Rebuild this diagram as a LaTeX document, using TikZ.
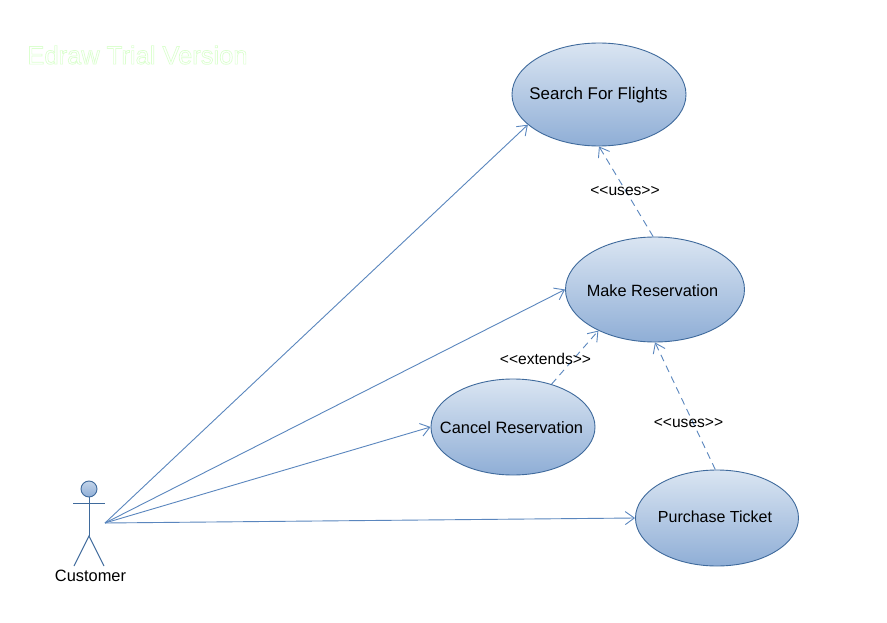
\documentclass[tikz,border=0pt]{standalone}
\usepackage{fontspec}
\setmainfont{Liberation Sans}
\usetikzlibrary{arrows.meta,shapes.geometric}
\definecolor{edgeblue}{HTML}{5A86BE}
\definecolor{rimblue}{HTML}{3F6A9C}
\definecolor{topblue}{HTML}{DAE5F2}
\definecolor{botblue}{HTML}{8FAED6}
\definecolor{wmgreen}{HTML}{DCFFD0}
\newcommand{\casetext}[4]{\makebox[0pt][c]{\kern#1pt\raisebox{#2pt}[0pt][0pt]{\fontsize{#3}{18}\selectfont #4}}}
\newcommand{\outlined}[1]{\special{pdf:code q 1 Tr 0.7 w}#1\special{pdf:code Q}}
\tikzset{
  usecase/.style={ellipse,draw=rimblue,line width=0.9pt,top color=topblue,bottom color=botblue,
    inner sep=0pt,text=black},
  assoc/.style={draw=edgeblue,line width=0.9pt,-{Straight Barb[length=9pt,width=13pt,line width=0.9pt]}},
  dep/.style={assoc,dash pattern=on 7pt off 5pt},
  stereo/.style={font=\fontsize{15.6}{17}\selectfont,text=black,inner sep=0pt},
  limb/.style={draw=rimblue,line width=1pt}
}
\begin{document}
\begin{tikzpicture}[x=1pt,y=-1pt]
\useasboundingbox[fill=white] (0,0) rectangle (887,623);
\node[font=\fontsize{25.5}{27}\selectfont,text=wmgreen,anchor=center,inner sep=0pt] (wm) at (137.5,55) {\outlined{Edraw Trial Version}};

\node[usecase,minimum width=174pt,minimum height=103pt] (search) at (599,94.5) {\casetext{-1}{-5.5}{16.9}{Search For Flights}};
\node[usecase,minimum width=179pt,minimum height=105pt] (make) at (655,289.5) {\casetext{-5}{-6.5}{16.3}{Make Reservation}};
\node[usecase,minimum width=164pt,minimum height=96pt] (cancel) at (513,427) {\casetext{-3}{-6}{16.4}{Cancel Reservation}};
\node[usecase,minimum width=163pt,minimum height=96pt] (purchase) at (717,518) {\casetext{-4}{-4}{16}{Purchase Ticket}};

\node[circle,draw=rimblue,line width=0.9pt,top color=topblue!70!botblue,bottom color=botblue,minimum size=16pt,inner sep=0pt] (head) at (89,489) {};
\coordinate (armL) at (73,503);
\coordinate (armR) at (105,503);
\coordinate (hip) at (89,536);
\coordinate (footL) at (74,566);
\coordinate (footR) at (104,566);
\coordinate (hand) at (105,523);
\draw[limb] (head.south) -- (hip);
\draw[limb] (armL) -- (armR);
\draw[limb] (footL) -- (hip) -- (footR);
\node[font=\fontsize{16.4}{18}\selectfont,text=black,inner sep=0pt] (cust) at (90.5,576) {Customer};

\draw[assoc] (hand) -- (search.203);
\draw[assoc] (hand) -- (make.180);
\draw[assoc] (hand) -- (cancel.180);
\draw[assoc] (hand) -- (purchase.180);

\draw[dep] (make.92) -- (search.270);
\draw[dep] (cancel.48) -- (make.216);
\draw[dep] (purchase.92) -- (make.270);

\node[stereo] (u1) at (625,191.5) {<{}<uses>{}>};
\node[stereo] (ex) at (545.5,359) {<{}<extends>{}>};
\node[stereo] (u2) at (688.5,423.5) {<{}<uses>{}>};
\end{tikzpicture}
\end{document}
